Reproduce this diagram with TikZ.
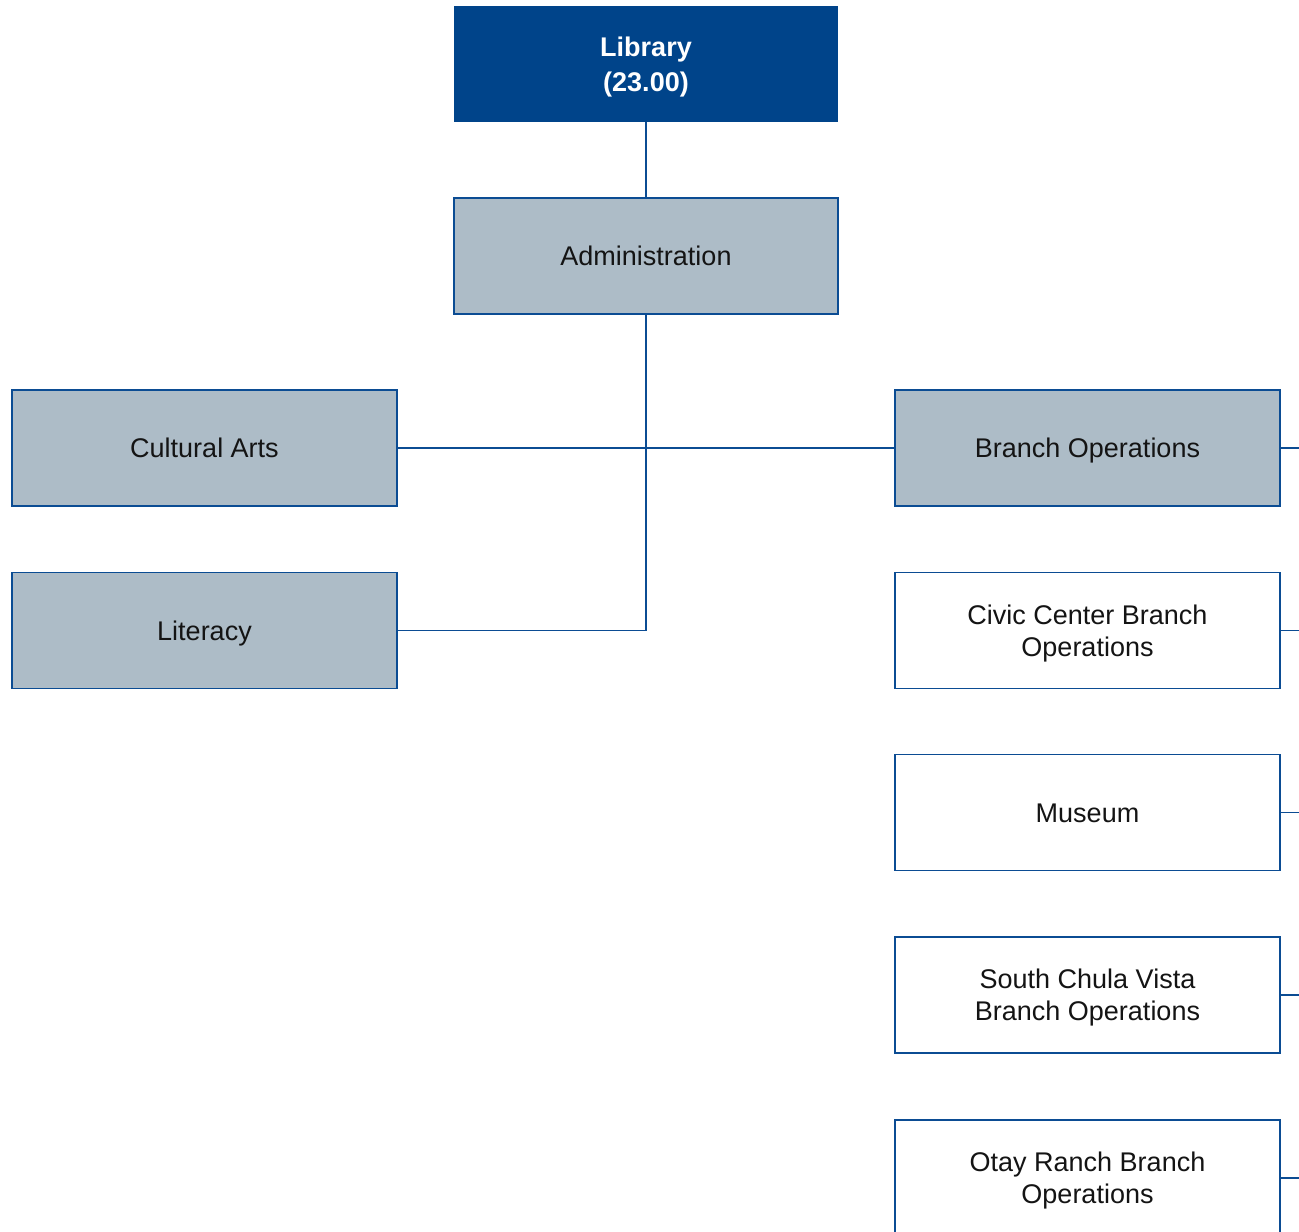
\documentclass[tikz,border=0pt]{standalone}
\usepackage{fontspec}
\setmainfont{Liberation Sans}
\definecolor{topblue}{HTML}{00448A}
\definecolor{edgeblue}{HTML}{0B4C93}
\definecolor{unitgray}{HTML}{ADBCC7}
\definecolor{inktext}{HTML}{141414}
% struts that keep one-line labels optically centred, with or without descenders
\newcommand\boxtopstrut{\rule{0pt}{25pt}}
\newcommand\boxbotstrut{\rule[-5.7pt]{0pt}{5.7pt}}
\tikzset{
  centred/.style={execute at begin node={\boxtopstrut}, execute at end node={\boxbotstrut}},
  unitbox/.style={rectangle, draw=edgeblue, line width=1.8pt, minimum width=385pt,
    minimum height=116pt, align=center, text=inktext, inner sep=0pt, centred,
    font=\fontsize{27}{32}\selectfont},
  graybox/.style={unitbox, fill=unitgray},
  whitebox/.style={unitbox, fill=white},
  headbox/.style={rectangle, fill=topblue, minimum width=384pt, minimum height=116pt,
    inner sep=0pt},
  % two-line captions, set as labels on the box centre
  unittext/.style={align=center, text=inktext, inner sep=0pt, yshift=-3pt,
    font=\fontsize{27}{32}\selectfont},
  headtext/.style={align=center, text=white, inner sep=0pt, yshift=-3.5pt,
    font=\bfseries\fontsize{27}{35}\selectfont},
  link/.style={draw=edgeblue, line width=1.8pt}
}
\begin{document}
\begin{tikzpicture}[x=1pt,y=-1pt]
\useasboundingbox (0,0) rectangle (1299,1232);
\clip (0,0) rectangle (1299,1232);

% head of the organisation
\node[headbox, label={[headtext, name=lib-text]center:Library\\(23.00)}] (lib) at (646,64) {};
\node[graybox, minimum width=384pt] (adm) at (646,256) {Administration};

% left column
\node[graybox] (cult) at (204.5,448) {Cultural Arts};
\node[graybox] (lit) at (204.5,630.5) {Literacy};

% right column
\node[graybox] (bops) at (1087.5,448) {Branch Operations};
\node[whitebox, label={[unittext, name=civic-text]center:Civic Center Branch\\Operations}]
  (civic) at (1087.5,630.5) {};
\node[whitebox] (mus) at (1087.5,812.5) {Museum};
\node[whitebox, label={[unittext, name=scv-text]center:South Chula Vista\\Branch Operations}]
  (scv) at (1087.5,995) {};
\node[whitebox, label={[unittext, name=otay-text]center:Otay Ranch Branch\\Operations}]
  (otay) at (1087.5,1178) {};

% connectors
\coordinate (bend) at (646,630.5);
\draw[link] (lib.south) -- (adm.north);
\draw[link] (adm.south) -- (bend) -- (lit.east);
\draw[link] (cult.east) -- (bops.west);

% stubs leaving the right column
\coordinate (s1) at (1310,448);
\coordinate (s2) at (1310,630.5);
\coordinate (s3) at (1310,812.5);
\coordinate (s4) at (1310,995);
\coordinate (s5) at (1310,1178);
\draw[link] (bops.east) -- (s1);
\draw[link] (civic.east) -- (s2);
\draw[link] (mus.east) -- (s3);
\draw[link] (scv.east) -- (s4);
\draw[link] (otay.east) -- (s5);
\end{tikzpicture}
\end{document}
